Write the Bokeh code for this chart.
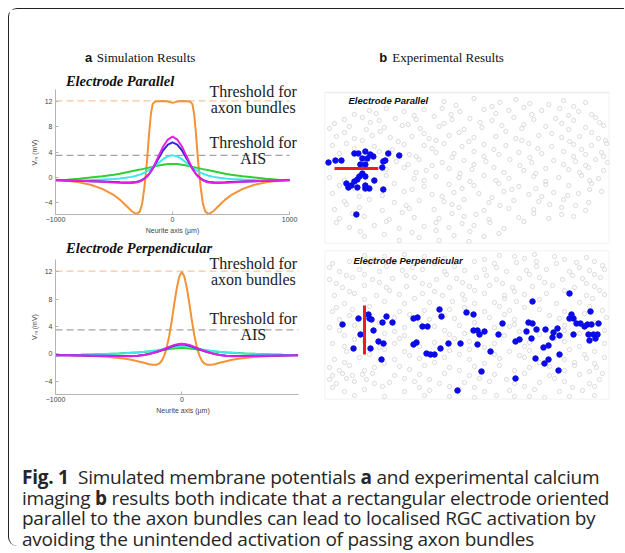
from bokeh.plotting import figure
from bokeh.layouts import row, column
from bokeh.models import Range1d, Label, FixedTicker, Div, BoxAnnotation
from bokeh.embed import file_html
from bokeh.resources import INLINE

# ---------------- data: simulation (panel a) ----------------
X_TOP = [-1000, -900, -800, -700, -600, -500, -450, -400, -350, -310, -280, -260, -240, -220, -200, -185, -170, -150, -120, -80, -40, 0,
         40, 80, 120, 150, 170, 185, 200, 220, 240, 260, 280, 310, 350, 400, 450, 500, 600, 700, 800, 900, 1000]
ORANGE_TOP = [-0.35, -0.5, -0.75, -1.15, -1.8, -2.8, -3.5, -4.4, -5.3, -5.8, -5.4, -4.2, -1.5, 2.2, 7.0, 10.0, 11.6, 12.0, 12.05, 12.1, 12.0, 11.8,
              12.0, 12.1, 12.05, 12.0, 11.6, 10.0, 7.0, 2.2, -1.5, -4.2, -5.4, -5.8, -5.3, -4.4, -3.5, -2.8, -1.8, -1.15, -0.75, -0.5, -0.35]
GREEN_TOP = [-0.45, -0.35, -0.2, 0.0, 0.2, 0.45, 0.6, 0.8, 1.0, 1.15, 1.25, 1.32, 1.4, 1.48, 1.56, 1.62, 1.68, 1.76, 1.88, 2.02, 2.12, 2.15,
             2.12, 2.02, 1.88, 1.76, 1.68, 1.62, 1.56, 1.48, 1.4, 1.32, 1.25, 1.15, 1.0, 0.8, 0.6, 0.45, 0.2, 0.0, -0.2, -0.35, -0.45]
CYAN_TOP = [-0.45, -0.45, -0.42, -0.38, -0.32, -0.22, -0.15, -0.05, 0.1, 0.28, 0.45, 0.6, 0.78, 0.98, 1.2, 1.38, 1.56, 1.85, 2.3, 2.9, 3.35, 3.5,
            3.35, 2.9, 2.3, 1.85, 1.56, 1.38, 1.2, 0.98, 0.78, 0.6, 0.45, 0.28, 0.1, -0.05, -0.15, -0.22, -0.32, -0.38, -0.42, -0.45, -0.45]
BLUE_TOP = [-0.45, -0.48, -0.52, -0.58, -0.65, -0.72, -0.76, -0.78, -0.77, -0.7, -0.55, -0.38, -0.15, 0.15, 0.55, 0.95, 1.4, 2.05, 3.0, 4.3, 5.2, 5.55,
            5.2, 4.3, 3.0, 2.05, 1.4, 0.95, 0.55, 0.15, -0.15, -0.38, -0.55, -0.7, -0.77, -0.78, -0.76, -0.72, -0.65, -0.58, -0.52, -0.48, -0.45]
MAGENTA_TOP = [-0.4, -0.45, -0.5, -0.58, -0.68, -0.78, -0.83, -0.87, -0.86, -0.78, -0.62, -0.45, -0.2, 0.12, 0.55, 0.98, 1.45, 2.2, 3.35, 4.9, 6.0, 6.45,
               6.0, 4.9, 3.35, 2.2, 1.45, 0.98, 0.55, 0.12, -0.2, -0.45, -0.62, -0.78, -0.86, -0.87, -0.83, -0.78, -0.68, -0.58, -0.5, -0.45, -0.4]

X_BOT = [-1000, -900, -800, -700, -600, -500, -450, -400, -350, -300, -260, -230, -200, -180, -160, -140, -120, -100, -80, -60, -40, -20, 0,
         20, 40, 60, 80, 100, 120, 140, 160, 180, 200, 230, 260, 300, 350, 400, 450, 500, 600, 700, 800, 900, 920]
ORANGE_BOT = [-0.15, -0.2, -0.25, -0.32, -0.42, -0.6, -0.72, -0.88, -1.08, -1.32, -1.52, -1.62, -1.6, -1.45, -1.05, -0.3, 0.9, 2.6, 4.8, 7.3, 9.6, 11.3, 12.0,
              11.3, 9.6, 7.3, 4.8, 2.6, 0.9, -0.3, -1.05, -1.45, -1.6, -1.62, -1.52, -1.32, -1.08, -0.88, -0.72, -0.6, -0.42, -0.32, -0.25, -0.2, -0.18]
MAGENTA_BOT = [-0.2, -0.22, -0.25, -0.28, -0.32, -0.36, -0.37, -0.36, -0.3, -0.18, -0.02, 0.12, 0.3, 0.42, 0.56, 0.7, 0.85, 1.0, 1.15, 1.28, 1.38, 1.45, 1.48,
               1.45, 1.38, 1.28, 1.15, 1.0, 0.85, 0.7, 0.56, 0.42, 0.3, 0.12, -0.02, -0.18, -0.3, -0.36, -0.37, -0.36, -0.32, -0.28, -0.25, -0.22, -0.2]
BLUE_BOT = [-0.2, -0.22, -0.24, -0.27, -0.3, -0.33, -0.34, -0.33, -0.27, -0.16, -0.02, 0.1, 0.27, 0.38, 0.5, 0.63, 0.77, 0.92, 1.06, 1.18, 1.28, 1.35, 1.38,
            1.35, 1.28, 1.18, 1.06, 0.92, 0.77, 0.63, 0.5, 0.38, 0.27, 0.1, -0.02, -0.16, -0.27, -0.33, -0.34, -0.33, -0.3, -0.27, -0.24, -0.22, -0.2]
CYAN_BOT = [-0.2, -0.18, -0.15, -0.1, -0.04, 0.04, 0.09, 0.15, 0.22, 0.3, 0.38, 0.44, 0.52, 0.58, 0.64, 0.72, 0.8, 0.88, 0.95, 1.02, 1.07, 1.1, 1.12,
            1.1, 1.07, 1.02, 0.95, 0.88, 0.8, 0.72, 0.64, 0.58, 0.52, 0.44, 0.38, 0.3, 0.22, 0.15, 0.09, 0.04, -0.04, -0.1, -0.15, -0.18, -0.17]
GREEN_BOT = [-0.2, -0.17, -0.13, -0.08, -0.02, 0.05, 0.1, 0.15, 0.2, 0.27, 0.33, 0.38, 0.44, 0.48, 0.53, 0.58, 0.64, 0.69, 0.74, 0.78, 0.82, 0.84, 0.85,
             0.84, 0.82, 0.78, 0.74, 0.69, 0.64, 0.58, 0.53, 0.48, 0.44, 0.38, 0.33, 0.27, 0.2, 0.15, 0.1, 0.05, -0.02, -0.08, -0.13, -0.17, -0.16]

THRESH_AXON = 12.1
THRESH_AIS = 3.5
AXIS_X_TOP = (-1000, 1000)
AXIS_Y_TOP = (-5.85, 13.9)
AXIS_X_BOT = (-1000, 922)
AXIS_Y_BOT = (-5.96, 13.8)
X_TICKS_TOP = [-1000, 0, 1000]
X_TICKS_BOT = [-1000, 0]
Y_TICKS = [-4, 0, 4, 8, 12]

# ---------------- data: calcium imaging (panel b) ----------------
BOX_TOP = (286, 151)
BOX_BOT = (285, 149)
GREY_TOP = [(120, 9), (150, 6), (176, 10), (192, 7), (206, 11), (240, 8), (262, 10),
            (45, 18), (62, 16), (80, 19), (100, 17), (118, 16), (136, 19), (160, 17), (185, 18), (200, 15), (218, 18), (236, 16), (255, 19),
            (20, 27), (38, 25), (55, 28), (71, 26), (92, 27), (110, 24), (128, 27), (146, 26), (168, 28), (190, 25), (210, 27), (232, 26), (250, 28), (272, 25),
            (5, 36), (25, 34), (42, 37), (60, 35), (78, 33), (96, 36), (115, 34), (140, 37), (158, 35), (178, 33), (198, 36), (222, 34), (245, 37), (262, 35), (280, 33),
            (12, 44), (30, 46), (48, 43), (66, 45), (88, 44), (105, 46), (125, 43), (150, 45), (172, 44), (192, 46), (215, 43), (238, 45), (256, 44), (275, 46),
            (8, 53), (22, 51), (50, 54), (80, 52), (100, 53), (120, 51), (138, 54), (160, 52), (182, 53), (205, 51), (228, 54), (250, 52), (268, 53), (283, 51),
            (15, 61), (55, 59), (85, 62), (112, 60), (130, 61), (150, 59), (175, 62), (195, 60), (218, 61), (240, 59), (262, 62), (278, 60),
            (72, 69), (95, 67), (118, 70), (140, 68), (162, 69), (186, 67), (208, 70), (230, 68), (252, 69), (272, 67), (284, 70),
            (62, 77), (80, 75), (102, 78), (125, 76), (148, 77), (170, 75), (200, 78), (222, 76), (245, 77), (265, 75), (280, 78),
            (5, 85), (62, 83), (90, 86), (112, 84), (135, 85), (160, 83), (185, 86), (210, 84), (235, 85), (258, 83), (275, 86),
            (15, 93), (70, 91), (100, 94), (125, 92), (150, 93), (175, 91), (195, 94), (222, 92), (245, 93), (268, 91),
            (8, 101), (80, 99), (108, 102), (130, 100), (155, 101), (180, 99), (205, 102), (230, 100), (255, 101), (278, 99),
            (20, 109), (45, 107), (70, 110), (95, 108), (120, 109), (140, 107), (165, 110), (190, 108), (215, 109), (240, 107), (265, 110),
            (10, 117), (35, 115), (58, 118), (85, 116), (110, 117), (135, 115), (160, 118), (185, 116), (210, 117), (238, 115), (262, 118),
            (15, 126), (40, 124), (65, 127), (90, 125), (115, 126), (140, 124), (165, 127), (195, 125), (225, 126), (250, 124),
            (25, 135), (50, 133), (75, 136), (100, 134), (125, 135), (150, 133), (180, 136),
            (40, 144), (60, 142), (95, 145), (130, 143), (160, 144),
            (132, 13), (168, 14), (225, 12), (250, 14),
            (30, 22), (52, 21), (90, 23), (127, 22), (172, 21), (208, 22), (245, 23), (268, 22),
            (10, 31), (46, 30), (84, 32), (120, 31), (156, 30), (200, 32), (238, 31), (276, 30),
            (20, 40), (56, 39), (100, 41), (135, 40), (182, 39), (228, 41), (268, 40),
            (38, 48), (74, 49), (112, 48), (145, 49), (198, 48), (246, 49), (282, 48),
            (30, 56), (68, 57), (108, 56), (170, 57), (214, 56), (258, 57),
            (92, 64), (128, 65), (160, 64), (206, 65), (250, 64), (280, 64),
            (84, 72), (108, 73), (150, 72), (196, 73), (240, 72), (262, 73),
            (92, 80), (136, 81), (180, 80), (212, 81), (256, 80),
            (20, 88), (50, 89), (100, 88), (146, 89), (172, 88), (222, 89), (266, 88),
            (30, 96), (88, 97), (138, 96), (188, 97), (212, 96), (266, 97),
            (35, 104), (58, 103), (118, 104), (168, 105), (218, 104), (244, 103),
            (22, 112), (82, 113), (128, 112), (176, 113), (226, 112), (252, 113),
            (28, 121), (78, 120), (128, 121), (152, 122), (210, 121), (238, 122),
            (12, 130), (62, 129), (112, 130), (138, 131), (166, 130), (200, 129),
            (36, 139), (88, 140), (112, 138), (146, 139), (175, 141),
            (75, 148), (115, 148), (145, 149)]
ACTIVE_TOP = [(4, 70), (11, 68), (17, 68), (30, 61), (34, 61), (41, 59), (46, 62), (49, 64), (43, 66), (38, 66), (36, 72), (41, 72),
              (64, 61), (75, 63), (59, 69), (61, 68), (58, 75), (38, 81), (35, 84), (41, 84), (22, 91), (30, 89), (33, 87), (50, 88),
              (24, 95), (27, 93), (33, 95), (41, 93), (41, 96), (45, 96), (59, 97), (32, 122)]
ELECTRODE_TOP_X = [10, 54]
ELECTRODE_TOP_Y = [76, 76]

GREY_BOT = [(40, 5), (60, 6), (80, 4), (100, 6), (175, 5), (190, 6), (210, 4), (230, 6),
            (8, 13), (25, 11), (45, 13), (70, 12), (90, 11), (110, 13), (130, 12), (150, 11), (170, 13), (192, 12), (212, 11), (232, 13), (252, 12), (270, 11),
            (15, 21), (35, 19), (55, 21), (78, 20), (98, 19), (120, 21), (140, 20), (160, 19), (182, 21), (202, 20), (222, 19), (245, 21), (265, 20), (280, 19),
            (5, 29), (28, 27), (48, 29), (68, 28), (90, 27), (112, 29), (132, 28), (152, 27), (172, 29), (195, 28), (215, 27), (238, 29), (258, 28), (276, 27),
            (18, 37), (40, 35), (62, 37), (82, 36), (105, 35), (125, 37), (145, 36), (165, 35), (188, 37), (208, 36), (228, 35), (250, 37), (270, 36),
            (10, 45), (30, 43), (52, 45), (75, 44), (98, 43), (118, 45), (138, 44), (160, 43), (180, 45), (200, 44), (222, 43), (262, 45), (280, 44),
            (20, 53), (60, 51), (80, 53), (105, 52), (128, 51), (150, 53), (170, 52), (192, 51), (232, 53), (255, 52),
            (8, 61), (28, 59), (75, 61), (100, 60), (125, 59), (160, 61), (185, 60), (215, 59), (240, 61), (278, 60),
            (15, 69), (70, 67), (105, 69), (130, 68), (165, 67), (190, 69), (235, 68), (282, 67),
            (5, 77), (30, 75), (80, 77), (110, 76), (135, 75), (170, 77), (185, 76), (240, 75),
            (20, 85), (60, 83), (80, 85), (125, 84), (140, 83), (180, 85), (215, 84), (255, 83),
            (8, 93), (40, 91), (70, 93), (110, 92), (145, 91), (170, 93), (205, 92), (240, 91), (280, 93),
            (22, 101), (60, 99), (80, 101), (125, 100), (145, 99), (185, 101), (205, 100), (245, 99), (270, 101),
            (10, 109), (35, 107), (70, 109), (95, 108), (120, 107), (145, 109), (175, 108), (200, 107), (240, 109), (262, 108), (280, 107),
            (5, 117), (25, 115), (50, 117), (75, 116), (100, 115), (125, 117), (150, 116), (175, 115), (205, 117), (225, 116), (250, 115), (272, 117),
            (8, 125), (18, 123), (28, 125), (38, 124), (48, 123), (70, 125), (95, 124), (120, 123), (145, 125), (170, 124), (200, 123), (225, 125), (255, 124), (278, 123),
            (12, 133), (30, 131), (50, 133), (65, 132), (90, 131), (115, 133), (140, 132), (165, 131), (190, 133), (215, 132), (240, 131), (265, 133),
            (20, 141), (40, 139), (80, 141), (105, 140), (135, 139), (160, 141), (185, 140), (210, 139), (235, 141), (258, 140),
            (60, 146), (150, 147), (190, 146), (220, 147), (245, 146),
            (50, 9), (120, 8), (160, 9), (200, 8), (240, 9), (262, 7),
            (5, 17), (62, 16), (88, 17), (130, 16), (172, 17), (212, 16), (255, 17), (278, 15),
            (22, 25), (40, 24), (82, 25), (122, 24), (162, 25), (205, 24), (248, 25), (270, 24),
            (12, 33), (55, 32), (98, 33), (138, 32), (178, 33), (220, 32), (262, 33),
            (25, 41), (65, 40), (110, 41), (150, 40), (190, 41), (240, 40), (275, 40),
            (40, 49), (90, 48), (140, 49), (180, 48), (215, 49), (268, 48),
            (12, 57), (45, 56), (140, 57), (175, 56), (200, 57), (265, 56),
            (25, 65), (85, 64), (120, 65), (180, 64), (225, 65), (260, 63),
            (55, 72), (95, 73), (150, 72), (190, 74), (270, 72),
            (15, 80), (70, 81), (120, 80), (195, 81), (240, 80), (280, 80),
            (30, 89), (75, 88), (130, 88), (195, 89), (230, 88), (265, 89),
            (20, 96), (55, 97), (95, 96), (160, 97), (200, 96), (255, 96),
            (45, 104), (85, 105), (135, 104), (170, 104), (195, 105), (260, 104),
            (20, 112), (60, 113), (110, 112), (160, 113), (215, 112), (250, 112), (270, 113),
            (15, 120), (40, 120), (85, 119), (135, 120), (190, 120), (240, 120), (265, 121),
            (5, 129), (22, 128), (42, 129), (80, 128), (105, 129), (155, 128), (182, 129), (230, 128), (275, 129),
            (8, 137), (58, 136), (95, 137), (125, 136), (150, 137), (200, 136), (248, 137), (270, 136),
            (30, 145), (100, 145), (125, 146), (172, 145), (205, 146), (270, 145)]
ACTIVE_BOT = [(18, 74), (29, 98), (34, 68), (36, 84), (44, 64), (45, 68), (47, 69), (49, 80), (46, 98), (58, 72), (62, 66), (68, 72),
              (54, 91), (59, 93), (57, 109), (89, 68), (93, 67), (89, 94), (92, 92), (98, 76), (103, 76), (102, 103), (106, 104), (110, 104),
              (116, 98), (115, 59), (117, 66), (124, 93), (136, 93), (142, 62), (149, 64), (149, 80), (153, 80), (155, 84), (160, 81),
              (153, 94), (166, 101), (157, 121), (133, 140), (174, 84), (178, 73), (191, 91), (195, 89), (191, 128), (202, 81), (204, 72),
              (208, 73), (208, 51), (207, 88), (212, 79), (211, 108), (219, 97), (224, 95), (221, 79), (220, 113), (224, 109), (229, 82),
              (228, 87), (233, 78), (235, 85), (235, 104), (234, 120), (245, 43), (247, 64), (245, 68), (249, 68), (252, 73), (249, 84),
              (256, 73), (260, 76), (263, 74), (266, 61), (267, 74), (264, 84), (269, 84), (273, 84), (271, 88), (265, 90), (274, 73)]
ELECTRODE_BOT_X = [40, 40]
ELECTRODE_BOT_Y = [55, 104]

# ---------------- texts ----------------
TITLE_A = "Simulation Results"
TITLE_B = "Experimental Results"
SUB_PAR = "Electrode Parallel"
SUB_PERP = "Electrode Perpendicular"
THR1 = ("Threshold for", "axon bundles")
THR2 = ("Threshold for", "AIS")
X_LABEL = "Neurite axis (\u00b5m)"
Y_LABEL = "V\u2098 (mV)"
CAPTION = ('<b>Fig.&nbsp;1</b>&nbsp;&nbsp;Simulated membrane potentials <b>a</b> and experimental calcium<br>'
           'imaging <b>b</b> results both indicate that a rectangular electrode oriented<br>'
           'parallel to the axon bundles can lead to localised RGC activation by<br>'
           'avoiding the unintended activation of passing axon bundles')

ORANGE = "#f39237"
GREEN = "#2fd12f"
CYAN = "#3ee6ef"
BLUE = "#2a2ad6"
MAGENTA = "#e41fe4"
AXIS_C = "#b4b4b4"
SERIF = "Liberation Serif"
SANS = "Liberation Sans"
EM = "\u2003"
EN = "\u2002"


def style_axes(p, xticks, xb, yb, xlab, ylab):
    p.xgrid.visible = False
    p.ygrid.visible = False
    p.outline_line_color = None
    p.xaxis.ticker = FixedTicker(ticks=xticks)
    p.yaxis.ticker = FixedTicker(ticks=Y_TICKS)
    p.xaxis.bounds = xb
    p.yaxis.bounds = yb
    for ax in (p.xaxis[0], p.yaxis[0]):
        ax.axis_line_color = AXIS_C
        ax.major_tick_line_color = AXIS_C
        ax.major_tick_in = 3
        ax.major_tick_out = 0
        ax.minor_tick_line_color = None
        ax.major_label_text_font = SANS
        ax.major_label_text_font_size = "7px"
        ax.major_label_text_color = "#444444"
        ax.axis_label_text_font = SANS
        ax.axis_label_text_font_size = "7px"
        ax.axis_label_text_font_style = "normal"
        ax.axis_label_text_color = "#444444"
    p.xaxis.major_label_standoff = 2
    p.xaxis.axis_label_standoff = 2
    p.yaxis.major_label_standoff = 3
    p.yaxis.axis_label_standoff = 4
    p.xaxis.axis_label = xlab
    p.yaxis.axis_label = ylab


def sim_panel(width, height, xr, yr, borders, xticks, xb, yb, xlab, ylab, xs, curves, thr_x, offs, sub, sub_xy, title_xy=None):
    p = figure(width=width, height=height, x_range=Range1d(*xr), y_range=Range1d(*yr),
               output_backend="svg", toolbar_location=None,
               min_border_left=borders[0], min_border_right=borders[1],
               min_border_top=borders[2], min_border_bottom=borders[3])
    style_axes(p, xticks, xb, yb, xlab, ylab)
    p.line(list(xb), [THRESH_AXON, THRESH_AXON], line_color="#f7c8a0", line_dash="7 4", line_width=1.2)
    p.line(list(xb), [THRESH_AIS, THRESH_AIS], line_color="#a3a3a3", line_dash="7 4", line_width=1.2)
    for ys, c in curves:
        p.line(xs, ys, line_color=c, line_width=2)
    for (txt, thr, off) in [(THR1[0], THRESH_AXON, offs[0]), (THR1[1], THRESH_AXON, offs[1]),
                            (THR2[0], THRESH_AIS, offs[2]), (THR2[1], THRESH_AIS, offs[3])]:
        p.add_layout(Label(x=thr_x, y=thr, y_offset=off, text=txt, text_align="center",
                           text_baseline="middle", text_font=SERIF, text_font_size="16px",
                           text_color="#222222"))
    p.add_layout(Label(x=sub_xy[0], y=sub_xy[1], text=sub, text_align="left", text_baseline="middle",
                       text_font=SERIF, text_font_size="14.5px", text_font_style="bold italic",
                       text_color="#111111"))
    if title_xy is not None:
        p.add_layout(Label(x=title_xy[0], y=title_xy[1], text="a", text_align="left", text_baseline="middle",
                           text_font=SANS, text_font_size="13px", text_font_style="bold", text_color="#111111"))
        p.add_layout(Label(x=title_xy[2], y=title_xy[1], text=TITLE_A, text_align="left", text_baseline="middle",
                           text_font=SERIF, text_font_size="13px", text_color="#111111"))
    return p


def img_panel(width, height, xr, yr, borders, box, grey, active, ex, ey, sub, sub_xy, title_xy=None):
    p = figure(width=width, height=height, x_range=Range1d(*xr), y_range=Range1d(*yr),
               output_backend="svg", toolbar_location=None,
               x_axis_location=None, y_axis_location=None,
               min_border_left=borders[0], min_border_right=borders[1],
               min_border_top=borders[2], min_border_bottom=borders[3])
    p.grid.visible = False
    p.outline_line_color = None
    p.add_layout(BoxAnnotation(left=0, right=box[0], top=0, bottom=box[1], fill_color=None,
                               line_color="#c4c4c4", line_width=1.5))
    p.scatter([g[0] for g in grey], [g[1] for g in grey], marker="circle", size=4.2,
              fill_color=None, line_color="#dadada", line_width=1)
    p.scatter([a[0] for a in active], [a[1] for a in active], marker="circle", size=5.5,
              fill_color="#0b0be8", line_color="#0b0be8")
    p.line(ex, ey, line_color="#ee1c1c", line_width=3)
    p.add_layout(Label(x=sub_xy[0], y=sub_xy[1], text=sub, text_align="left", text_baseline="middle",
                       text_font=SANS, text_font_size="9.5px", text_font_style="bold italic",
                       text_color="#111111"))
    if title_xy is not None:
        p.add_layout(Label(x=title_xy[0], y=title_xy[1], text="b", text_align="left", text_baseline="middle",
                           text_font=SANS, text_font_size="13px", text_font_style="bold", text_color="#111111"))
        p.add_layout(Label(x=title_xy[2], y=title_xy[1], text=TITLE_B, text_align="left", text_baseline="middle",
                           text_font=SERIF, text_font_size="13px", text_color="#111111"))
    return p


a1 = sim_panel(306, 228, (-1000, 1119), (-5.85, 21.5), (45, 12, 32, 23), X_TICKS_TOP, AXIS_X_TOP, AXIS_Y_TOP,
               X_LABEL + EM * 2, Y_LABEL + EM * 6 + EN * 2, X_TOP,
               [(ORANGE_TOP, ORANGE), (GREEN_TOP, GREEN), (CYAN_TOP, CYAN), (BLUE_TOP, BLUE), (MAGENTA_TOP, MAGENTA)],
               689, (9.4, -6.6, 13, -3.5), SUB_PAR, (-911, 15.28), title_xy=(-749, 19.0, -647))
a2 = sim_panel(306, 184, (-1000, 963), (-5.96, 16.88), (46, 6, 1, 27), X_TICKS_BOT, AXIS_X_BOT, AXIS_Y_BOT,
               EM + X_LABEL, Y_LABEL + EM * 3, X_BOT,
               [(ORANGE_BOT, ORANGE), (GREEN_BOT, GREEN), (CYAN_BOT, CYAN), (BLUE_BOT, BLUE), (MAGENTA_BOT, MAGENTA)],
               566, (8, -8.6, 11, -5), SUB_PERP, (-917, 15.46))
b1 = img_panel(309, 237, (0, 286), (151, -51), (8, 15, 32, 3), BOX_TOP, GREY_TOP, ACTIVE_TOP,
               ELECTRODE_TOP_X, ELECTRODE_TOP_Y, SUB_PAR, (24, 7.7), title_xy=(55, -35, 68))
b2 = img_panel(309, 175, (0, 285), (149, 0), (9, 15, 4, 22), BOX_BOT, GREY_BOT, ACTIVE_BOT,
               ELECTRODE_BOT_X, ELECTRODE_BOT_Y, SUB_PERP, (29, 10))

cap = Div(text='<div style="padding:46px 0 0 13px; font-family:\'Open Sans\'; font-size:19px; '
               'line-height:20.7px; color:#262626; letter-spacing:-0.25px; white-space:nowrap;">' + CAPTION + '</div>',
          width=615, height=125, margin=0)

top = row(column(a1, a2, spacing=0), column(b1, b2, spacing=0), spacing=0)
layout = column(top, cap, spacing=0, margin=(8, 0, 0, 8),
                styles={"border-top": "1.5px solid #222", "border-left": "1.5px solid #222",
                        "border-top-left-radius": "9px", "border-bottom-left-radius": "9px"})

open("out.html", "w").write(file_html(layout, INLINE))
